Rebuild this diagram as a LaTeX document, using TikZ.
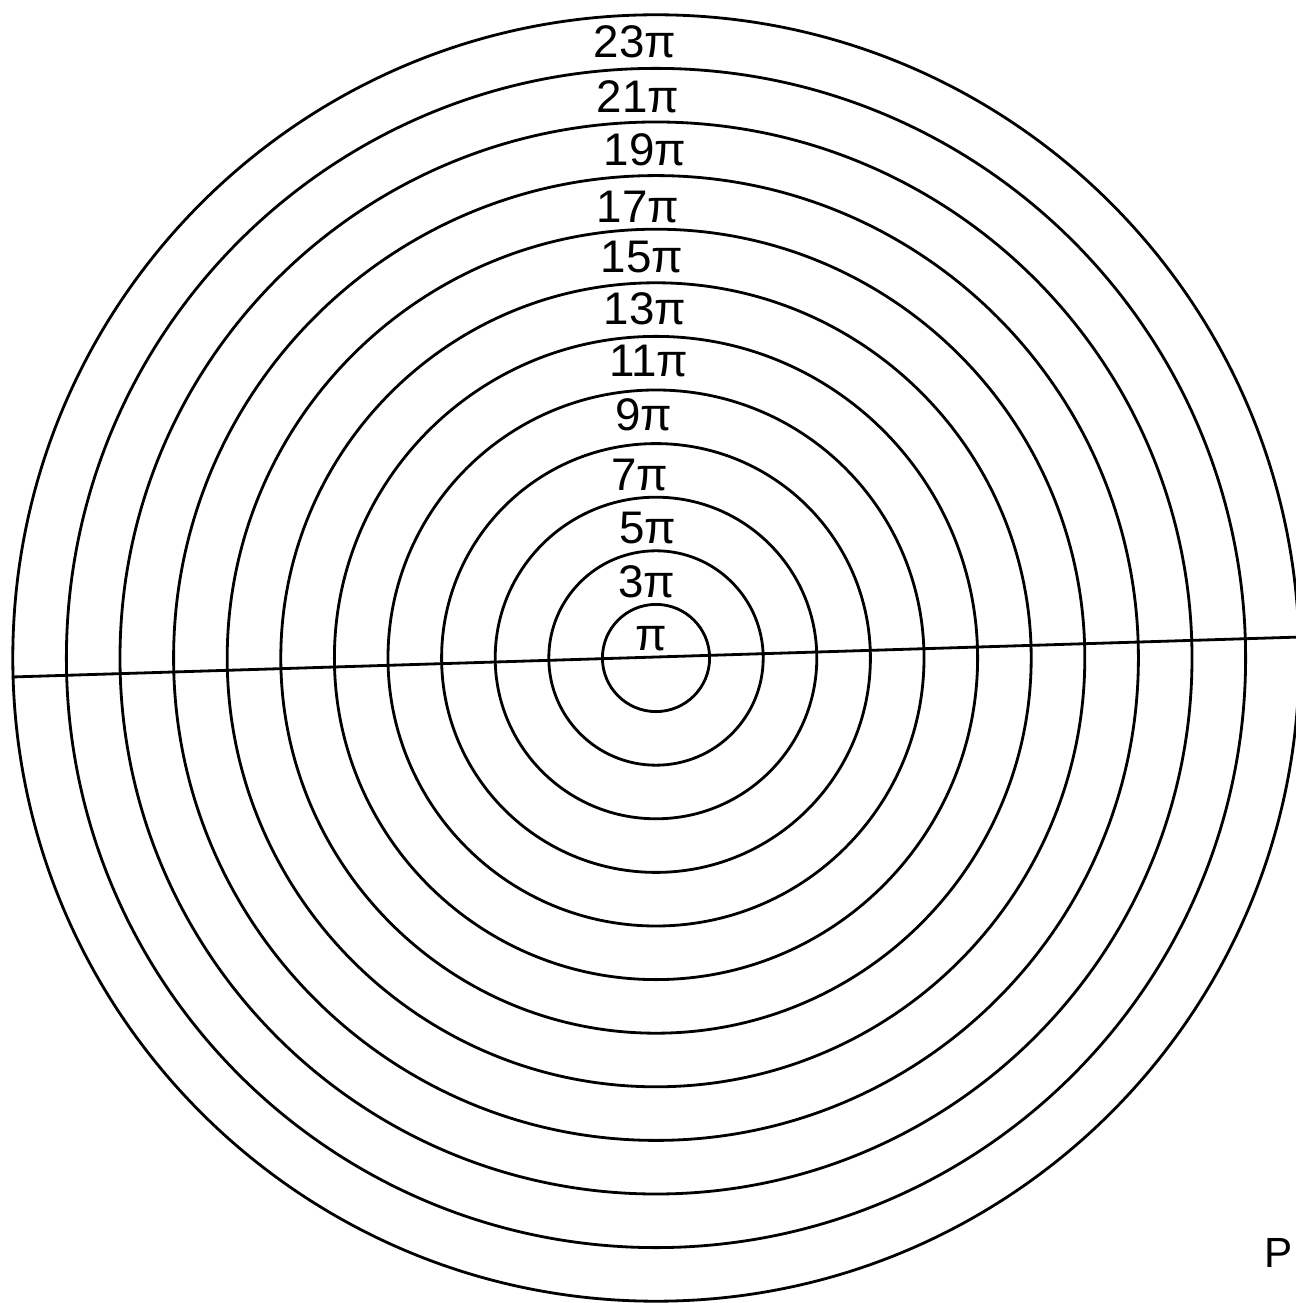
\documentclass[tikz,border=0pt]{standalone}
\usepackage{fontspec}
\setmainfont{Liberation Sans}
\usepackage{tikz}
\usetikzlibrary{positioning}
\tikzstyle{ring} = [draw=black, line width=0.8pt]
\tikzstyle{lbl} = [inner sep=0pt, font=\fontsize{13}{15}\selectfont]

\begin{document}
\begin{tikzpicture}
  % Khung
  \useasboundingbox (-6.56,-6.45) rectangle (6.39,6.58);
  \coordinate (o) at (0,0);

  % Các vòng tròn
  \draw[ring] (o) circle (0.536);
  \draw[ring] (o) circle (1.072);
  \draw[ring] (o) circle (1.608);
  \draw[ring] (o) circle (2.144);
  \draw[ring] (o) circle (2.680);
  \draw[ring] (o) circle (3.216);
  \draw[ring] (o) circle (3.752);
  \draw[ring] (o) circle (4.288);
  \draw[ring] (o) circle (4.824);
  \draw[ring] (o) circle (5.360);
  \draw[ring] (o) circle (5.896);
  \draw[ring] (o) circle (6.432);

  % Đường ngang
  \coordinate (l) at (-6.44,-0.19);
  \coordinate (r) at (6.45,0.21);
  \draw[ring] (l) -- (r);

  % Nhãn
  \node[lbl] (p1) at (-0.05,0.19) {π};
  \node[lbl] (p3) at (-0.09,0.76) {3π};
  \node[lbl] (p5) at (-0.08,1.30) {5π};
  \node[lbl] (p7) at (-0.16,1.83) {7π};
  \node[lbl] (p9) at (-0.12,2.43) {9π};
  \node[lbl] (p11) at (-0.07,2.97) {11π};
  \node[lbl] (p13) at (-0.11,3.49) {13π};
  \node[lbl] (p15) at (-0.14,4.01) {15π};
  \node[lbl] (p17) at (-0.18,4.51) {17π};
  \node[lbl] (p19) at (-0.11,5.08) {19π};
  \node[lbl] (p21) at (-0.18,5.61) {21π};
  \node[lbl] (p23) at (-0.21,6.16) {23π};

  % Góc dưới
  \node[lbl, anchor=east, font=\fontsize{12}{14}\selectfont] (pp) at (6.37,-5.95) {P};
\end{tikzpicture}
\end{document}
